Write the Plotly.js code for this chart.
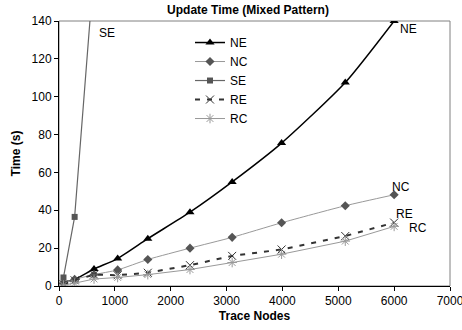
<!DOCTYPE html>
<html>
<head>
<meta charset="utf-8">
<script src="https://cdn.plot.ly/plotly-3.0.1.min.js"></script>
<style>html,body{margin:0;padding:0;background:#fff}#chart{width:462px;height:330px}</style>
</head>
<body>
<div id="chart"></div>
<script>
// Trace node counts (x) shared by most series
const nodes = [80, 280, 627, 1050, 1590, 2345, 3100, 3985, 5125, 6000];
const neTime = [2, 3.5, 9, 14.5, 25, 39, 55, 75.5, 107.5, 140];
const ncTime = [1.5, 3.5, 6, 8.5, 14, 20, 25.7, 33.4, 42.4, 48.2];
const seNodes = [80, 280, 625];
const seTime = [4.5, 36.5, 167];
const reTime = [1, 3, 6, 5.7, 7, 11, 15.9, 19.3, 26.4, 33.5];
const rcTime = [0.5, 1.5, 3.7, 4.5, 6, 8.7, 12.4, 16.8, 23.7, 31.5];
const seriesNames = ["NE", "NC", "SE", "RE", "RC"];
const xTicks = [0, 1000, 2000, 3000, 4000, 5000, 6000, 7000];
const yTicks = [0, 20, 40, 60, 80, 100, 120, 140];

const FONT = "Liberation Sans, Arial, sans-serif";

const traces = [
  {x: nodes, y: neTime, name: seriesNames[0], mode: "lines+markers",
   line: {color: "#000", width: 1.5, shape: "spline", smoothing: 0.6},
   marker: {symbol: "triangle-up", size: 8, color: "#000"}},
  {x: nodes, y: ncTime, name: seriesNames[1], mode: "lines+markers",
   line: {color: "#999", width: 1, shape: "spline", smoothing: 0.6},
   marker: {symbol: "diamond", size: 7, color: "#555"}},
  {x: seNodes, y: seTime, name: seriesNames[2], mode: "lines+markers",
   line: {color: "#666", width: 1.2},
   marker: {symbol: "square", size: 6, color: "#555"}},
  {x: nodes, y: reTime, name: seriesNames[3], mode: "lines+markers",
   line: {color: "#333", width: 2, dash: "5px,7px"},
   marker: {symbol: "x-thin-open", size: 8, line: {color: "#aaa", width: 1}}},
  {x: nodes, y: rcTime, name: seriesNames[4], mode: "lines+markers",
   line: {color: "#999", width: 1},
   marker: {symbol: "asterisk-open", size: 8, line: {color: "#999", width: 1}}}
];

const ann = (text, x, y) => ({text: text, x: x, y: y, xref: "x", yref: "y",
  xanchor: "left", yanchor: "middle", showarrow: false,
  font: {family: FONT, size: 12, color: "#000"}});

const layout = {
  width: 462, height: 330,
  margin: {l: 59, r: 12, t: 21, b: 44},
  paper_bgcolor: "#fff", plot_bgcolor: "#fff",
  font: {family: FONT, size: 12, color: "#000"},
  showlegend: true,
  title: {text: "<b>Update Time (Mixed Pattern)</b>", x: 248/462, xref: "container",
          xanchor: "center", y: 1 - 10/330, yref: "container", yanchor: "middle",
          font: {family: FONT, size: 12, color: "#000"}},
  xaxis: {range: [0, 7000], tickvals: xTicks, ticktext: xTicks.map(String),
          showgrid: false, zeroline: false, showline: true, linecolor: "#000", linewidth: 1,
          ticks: "outside", ticklen: 4, tickcolor: "#000", ticklabeloverflow: "allow",
          tickfont: {family: FONT, size: 12, color: "#000"},
          title: {text: "<b>Trace Nodes</b>", standoff: 4, font: {family: FONT, size: 12, color: "#000"}}},
  yaxis: {range: [0, 140], tickvals: yTicks, ticktext: yTicks.map(String),
          showgrid: false, zeroline: false, showline: true, linecolor: "#000", linewidth: 1,
          ticks: "outside", ticklen: 4, tickcolor: "#000",
          tickfont: {family: FONT, size: 12, color: "#000"},
          title: {text: "<b>Time (s)</b>", standoff: 8, font: {family: FONT, size: 12, color: "#000"}}},
  legend: {x: (190-59)/391, xanchor: "left", y: 1 - (28-21)/264, yanchor: "top",
           bgcolor: "rgba(0,0,0,0)", borderwidth: 0,
           font: {family: FONT, size: 12, color: "#000"}, tracegroupgap: 0},
  shapes: [{type: "rect", xref: "paper", yref: "paper", x0: 0, x1: 1, y0: 0, y1: 1,
            line: {color: "#808080", width: 1}, layer: "below"}],
  annotations: [
    ann("SE", 675, 133.8),
    ann("NE", 6069, 135.6),
    ann("NC", 5925, 52.5),
    ann("RE", 5997, 38),
    ann("RC", 6225, 30.4)
  ]
};

Plotly.newPlot("chart", traces, layout, {staticPlot: true, displayModeBar: false});
</script>
</body>
</html>
